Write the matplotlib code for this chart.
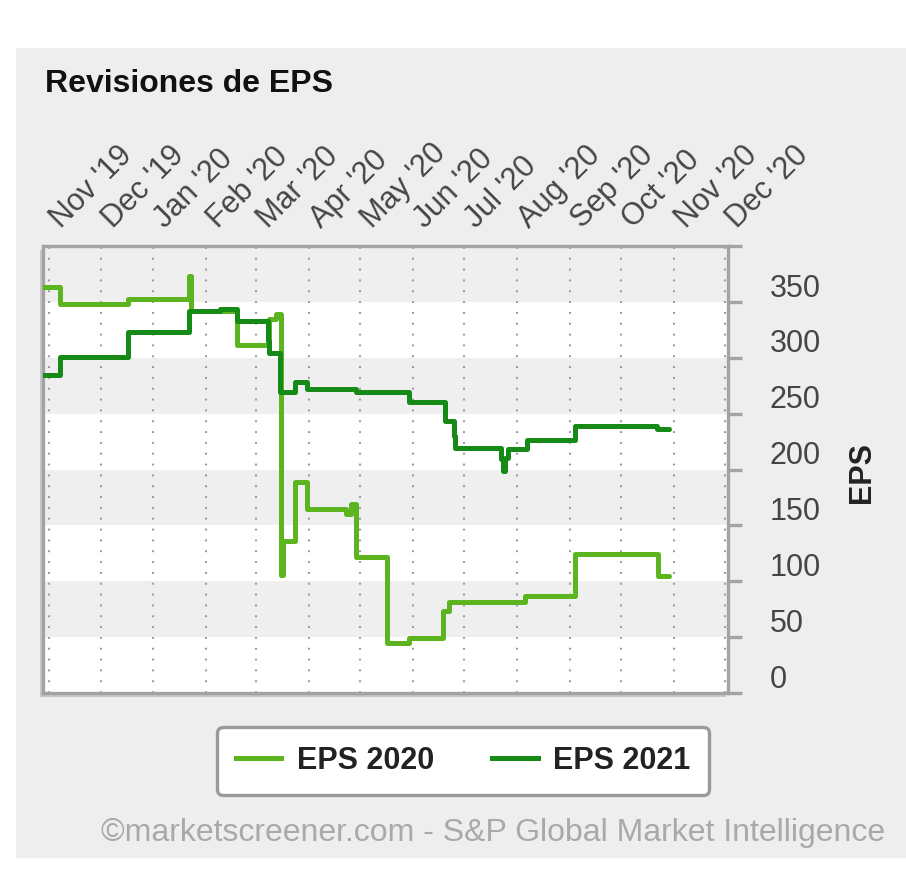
import matplotlib
matplotlib.use("Agg")
import matplotlib.pyplot as plt
import matplotlib.dates as mdates
import matplotlib.transforms as mtransforms
from matplotlib.patches import Rectangle
from matplotlib.lines import Line2D
import numpy as np
import pandas as pd

# ---------------- data ----------------
dates_2020 = ['2019-10-28', '2019-11-07', '2019-12-17', '2020-01-22', '2020-01-23',
              '2020-02-19', '2020-03-09', '2020-03-13', '2020-03-16', '2020-03-17',
              '2020-03-24', '2020-03-31', '2020-04-23', '2020-04-26', '2020-04-29',
              '2020-05-17', '2020-05-30', '2020-06-19', '2020-06-22', '2020-08-06',
              '2020-09-04', '2020-10-23', '2020-10-29']
eps_2020 = [348, 333, 338, 358, 327, 296, 320, 324, 91, 121, 174, 150, 145, 154, 107,
            30, 34.5, 58, 66, 71.6, 109, 89.5, 89.5]

dates_2021 = ['2019-10-28', '2019-11-07', '2019-12-17', '2020-01-22', '2020-02-09',
              '2020-02-19', '2020-03-08', '2020-03-09', '2020-03-15', '2020-03-24',
              '2020-03-31', '2020-04-29', '2020-05-30', '2020-06-20', '2020-06-25',
              '2020-06-26', '2020-07-23', '2020-07-24', '2020-07-25', '2020-07-27',
              '2020-08-07', '2020-09-04', '2020-10-22', '2020-10-29']
eps_2021 = [270, 286, 308, 327, 329, 318, 300, 289.5, 254, 263, 257, 254.5, 245.3,
            228.3, 215, 204, 194, 183.5, 195, 203, 211, 224, 221, 221]

month_ticks = pd.date_range('2019-11-01', '2020-12-01', freq='MS')
y_labels = [0, 50, 100, 150, 200, 250, 300, 350]
series_names = ['EPS 2020', 'EPS 2021']
title = 'Revisiones de EPS'
y_title = 'EPS'
footer = '\u00a9marketscreener.com - S&P Global Market Intelligence'

# ---------------- style ----------------
C_LIGHT = '#5cb51f'
C_DARK = '#168a16'
FRAME = '#a3a3a3'
TXT = '#454545'
PANEL = '#eeeeee'
BAND = '#efefef'
FONT = 'Liberation Sans'
LW = 3.6

W, H = 906, 875
fig = plt.figure(figsize=(W / 100, H / 100), dpi=100)
fig.patch.set_facecolor('white')

# gray panel
fig.patches.append(Rectangle((16 / W, 1 - 858 / H), (W - 16) / W, (858 - 48) / H,
                             transform=fig.transFigure, facecolor=PANEL,
                             edgecolor='none', zorder=-10))
# frame shadow (left / bottom)
fig.patches.append(Rectangle((40 / W, 1 - 697 / H), (726 - 40) / W, (697 - 250) / H,
                             transform=fig.transFigure, facecolor='#c6c6c6',
                             edgecolor='none', zorder=-5))

ax = fig.add_axes([43 / W, 1 - 693 / H, (728 - 43) / W, (693 - 246) / H])
ax.set_facecolor('white')

ymin, ymax = -15, 385
ax.set_ylim(ymin, ymax)
x0 = mdates.date2num(pd.Timestamp('2019-10-28 06:00'))
x1 = mdates.date2num(pd.Timestamp('2020-12-02 20:00'))
ax.set_xlim(x0, x1)

# alternating bands
edges = np.arange(ymin, ymax + 1, 50)
for i in range(len(edges) - 1):
    if i % 2 == 1:
        ax.axhspan(edges[i], edges[i + 1], color=BAND, zorder=0, lw=0)

# vertical dotted grid
for d in month_ticks:
    ax.axvline(mdates.date2num(d), color='#9a9a9a', lw=1.5,
               ls=(0, (0.9, 4.3)), zorder=1)

# series
d20 = mdates.date2num(pd.to_datetime(dates_2020))
d21 = mdates.date2num(pd.to_datetime(dates_2021))
ax.plot(d20, eps_2020, drawstyle='steps-post', color=C_LIGHT, lw=LW,
        solid_joinstyle='round', solid_capstyle='round', zorder=3)
ax.plot(d21, eps_2021, drawstyle='steps-post', color=C_DARK, lw=LW,
        solid_joinstyle='round', solid_capstyle='round', zorder=4)

# spines
for s in ['left', 'top', 'bottom', 'right']:
    ax.spines[s].set_color(FRAME)
    ax.spines[s].set_linewidth(2.4)

# y axis on right
ax.yaxis.tick_right()
ax.set_yticks(y_labels)
ax.set_yticklabels([str(v) for v in y_labels])
ax.set_yticks(edges, minor=True)
ax.tick_params(axis='y', which='major', length=0, pad=30, labelsize=22,
               labelcolor=TXT)
for lab in ax.get_yticklabels():
    lab.set_fontfamily(FONT)
ax.tick_params(axis='y', which='minor', length=10, width=2.4, color=FRAME,
               direction='out', right=True, left=False)

# x axis labels on top (rotated)
ax.set_xticks([])
off = mtransforms.ScaledTranslation(0.17, 0.12, fig.dpi_scale_trans)
for d in month_ticks:
    ax.text(mdates.date2num(d), 1.0, d.strftime("%b '%y"),
            transform=ax.get_xaxis_transform() + off,
            rotation=45, rotation_mode='anchor', ha='left', va='bottom',
            fontsize=22, family=FONT, color=TXT, clip_on=False)

# titles
fig.text(45 / W, 1 - 92 / H, title, fontsize=23, fontweight='bold',
         family=FONT, color='#111111', va='baseline', ha='left')
fig.text(862 / W, 1 - 472 / H, y_title, fontsize=22, fontweight='bold',
         family=FONT, color='#222222', rotation=90, ha='center', va='center')

# legend
handles = [Line2D([], [], color=C_LIGHT, lw=LW),
           Line2D([], [], color=C_DARK, lw=LW)]
leg = fig.legend(handles, series_names, loc='center', ncol=2,
                 bbox_to_anchor=(463 / W, 1 - 761 / H),
                 prop={'family': FONT, 'weight': 'bold', 'size': 22},
                 handlelength=1.5, handletextpad=0.5, columnspacing=1.9,
                 borderpad=0.62, borderaxespad=0, fancybox=True, framealpha=1,
                 edgecolor='#9a9a9a', facecolor='white')
leg.get_frame().set_linewidth(2.4)
for t in leg.get_texts():
    t.set_color('#222222')

# footer
fig.text(885 / W, 1 - 833 / H, footer, fontsize=23, family=FONT,
         color='#a9a9a9', ha='right', va='center')

fig.savefig('out.png', dpi=100, facecolor='white')
